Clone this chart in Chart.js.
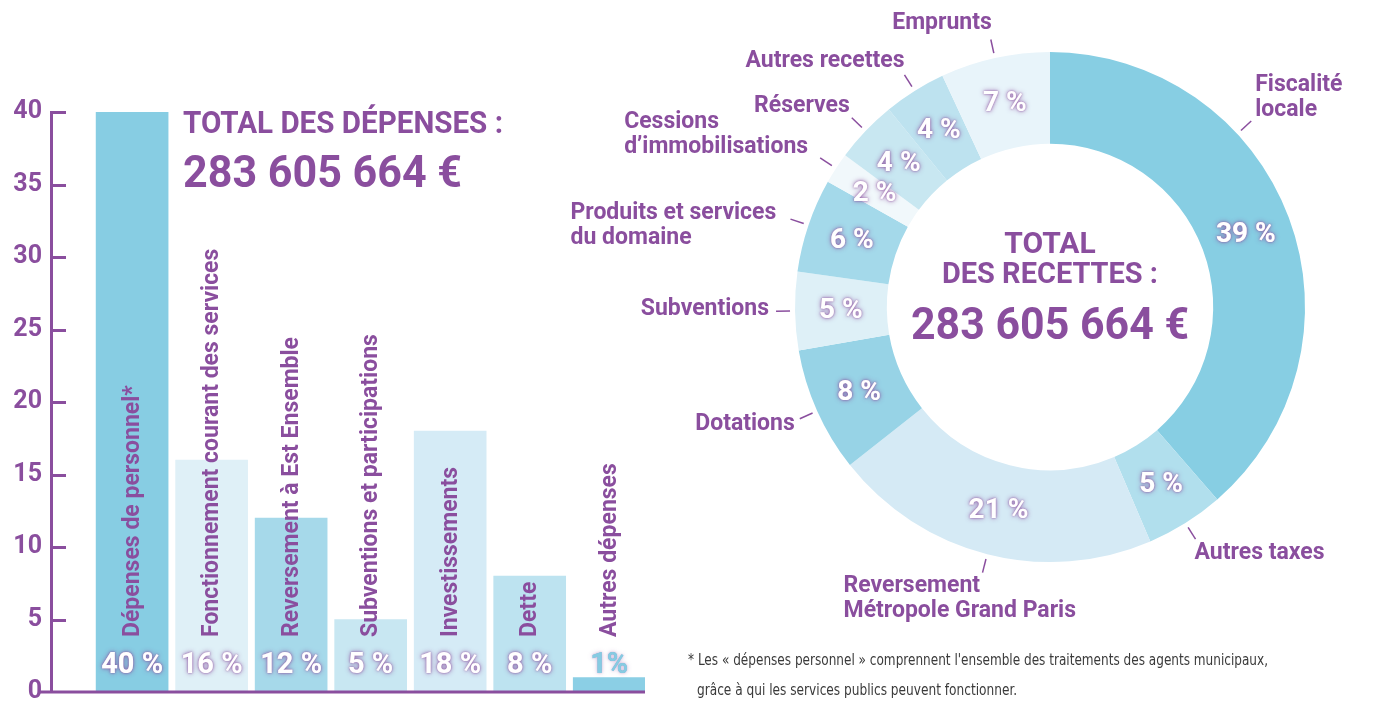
<!DOCTYPE html>
<html>
<head>
<meta charset="utf-8">
<script src="https://cdn.jsdelivr.net/npm/chart.js@4.4.1/dist/chart.umd.min.js"></script>
<style>
  html, body { margin: 0; padding: 0; background: #fff; overflow: hidden; width: 1378px; height: 701px; }
  #bars { position: absolute; left: 0; top: 0; }
  #ring { position: absolute; left: 550px; top: 0; }
</style>
</head>
<body>
<canvas id="bars" width="680" height="720"></canvas>
<canvas id="ring" width="828" height="701"></canvas>
<script>
const PURPLE = '#8a4e9e';
const FONT = 'Roboto, "Liberation Sans", sans-serif';

// dépenses (bar chart)
const depenseLabels = ['Dépenses de personnel*', 'Fonctionnement courant des services', 'Reversement à Est Ensemble',
  'Subventions et participations', 'Investissements', 'Dette', 'Autres dépenses'];
const depenseValues = [40, 16, 12, 5, 18, 8, 1];
const depensePct = ['40 %', '16 %', '12 %', '5 %', '18 %', '8 %', '1%'];
const depenseColors = ['#87cde3', '#dff0f7', '#a6d9ea', '#c8e7f2', '#d5ebf6', '#bde3f0', '#8bcfe5'];
const yMax = 40;
const yStep = 5;

// recettes (doughnut)
const recetteLabels = [['Fiscalité', 'locale'], ['Autres taxes'], ['Reversement', 'Métropole Grand Paris'], ['Dotations'],
  ['Subventions'], ['Produits et services', 'du domaine'], ['Cessions', 'd’immobilisations'], ['Réserves'],
  ['Autres recettes'], ['Emprunts']];
const recetteValues = [39, 5, 21, 8, 5, 6, 2, 4, 4, 7];
const recettePct = ['39 %', '5 %', '21 %', '8 %', '5 %', '6 %', '2 %', '4 %', '4 %', '7 %'];
const recetteColors = ['#87cee3', '#b1dfed', '#d5eaf5', '#97d3e6', '#def0f7', '#a4d9ea', '#f1f8fb', '#c8e7f1', '#bde2ef', '#e8f4fa'];

const totalText = '283 605 664 €';
const footnote = ['* Les « dépenses personnel » comprennent l\'ensemble des traitements des agents municipaux,',
  'grâce à qui les services publics peuvent fonctionner.'];

// where each outside label sits, relative to the end of its leader line
const labelPlace = [
  { frac: 0.34, align: 'left', dx: 4, dy: -36 },
  { frac: 0.5, align: 'left', dx: -1, dy: 14 },
  { frac: 0.5, align: 'left', dx: -139, dy: 14 },
  { frac: 0.5, align: 'right', dx: -5, dy: 6 },
  { frac: 0.5, align: 'right', dx: -7, dy: -2 },
  { frac: 0.5, align: 'left', dx: -220, dy: -6 },
  { frac: 0.5, align: 'left', dx: -196, dy: -36 },
  { frac: 0.5, align: 'right', dx: -2, dy: -12 },
  { frac: 0.5, align: 'right', dx: 0, dy: -14 },
  { frac: 0.5, align: 'right', dx: 1, dy: -16 }
];

function glowText(ctx, txt, x, y, fill, glow) {
  ctx.save();
  ctx.shadowColor = glow;
  ctx.shadowBlur = 5;
  ctx.fillStyle = fill;
  ctx.fillText(txt, x, y);
  ctx.shadowBlur = 2;
  ctx.fillText(txt, x, y);
  ctx.restore();
}

const barDecor = {
  id: 'barDecor',
  afterDraw(chart) {
    const ctx = chart.ctx;
    const xs = chart.scales.x, ys = chart.scales.y;
    const area = chart.chartArea;
    const base = ys.getPixelForValue(0);
    ctx.save();
    ctx.strokeStyle = PURPLE;
    ctx.lineWidth = 3;
    // inward tick marks
    ys.ticks.forEach(t => {
      if (t.value === 0) return;
      const y = Math.round(ys.getPixelForValue(t.value)) + 0.5;
      ctx.beginPath();
      ctx.moveTo(area.left, y);
      ctx.lineTo(area.left + 15, y);
      ctx.stroke();
    });
    // x axis line
    ctx.beginPath();
    ctx.moveTo(area.left - 11, base);
    ctx.lineTo(area.right, base);
    ctx.stroke();

    // rotated category names
    ctx.font = 'bold 23px ' + FONT;
    ctx.fillStyle = PURPLE;
    ctx.textAlign = 'left';
    ctx.textBaseline = 'middle';
    depenseLabels.forEach((lab, i) => {
      const x = xs.getPixelForValue(i);
      ctx.save();
      ctx.translate(x, base - 55);
      ctx.rotate(-Math.PI / 2);
      ctx.fillText(lab, 0, 1);
      ctx.restore();
    });

    // percentages
    ctx.font = 'bold 29px ' + FONT;
    ctx.textAlign = 'center';
    depensePct.forEach((p, i) => {
      const x = xs.getPixelForValue(i);
      if (depenseValues[i] < 3) {
        glowText(ctx, p, x, base - 26, '#86cbe2', 'rgba(138,78,158,0.35)');
      } else {
        glowText(ctx, p, x, base - 26, '#ffffff', 'rgba(138,78,158,0.85)');
      }
    });

    // title
    ctx.textAlign = 'left';
    ctx.textBaseline = 'alphabetic';
    ctx.fillStyle = PURPLE;
    ctx.font = 'bold 32px ' + FONT;
    ctx.fillText('TOTAL DES DÉPENSES :', 183, 133, 320);
    ctx.font = 'bold 44px ' + FONT;
    ctx.fillText(totalText, 183, 187, 279);
    ctx.restore();
  }
};

new Chart(document.getElementById('bars'), {
  type: 'bar',
  data: {
    datasets: [{
      data: depenseValues.map((v, i) => ({ x: i, y: v })),
      backgroundColor: depenseColors,
      borderWidth: 0,
      barThickness: 72
    }]
  },
  options: {
    responsive: false,
    animation: false,
    devicePixelRatio: 1,
    layout: { padding: { top: 112, bottom: 28, right: 35, left: 0 } },
    plugins: { legend: { display: false }, tooltip: { enabled: false } },
    scales: {
      x: { type: 'linear', min: -1.02, max: 6.45, offset: false, grid: { offset: false }, display: false },
      y: {
        min: 0, max: yMax,
        ticks: { stepSize: yStep, color: PURPLE, padding: 9, font: { family: FONT, size: 25, weight: 'bold' } },
        grid: { display: false, drawTicks: false },
        border: { display: true, color: PURPLE, width: 3 },
        afterFit(scale) { scale.width = 51; }
      }
    }
  },
  plugins: [barDecor]
});

const ringDecor = {
  id: 'ringDecor',
  afterDraw(chart) {
    const ctx = chart.ctx;
    const meta = chart.getDatasetMeta(0);
    const arcs = meta.data;
    const cx = arcs[0].x, cy = arcs[0].y;
    ctx.save();

    // percentages in the ring
    ctx.font = 'bold 28px ' + FONT;
    ctx.textAlign = 'center';
    ctx.textBaseline = 'middle';
    arcs.forEach((arc, i) => {
      const pos = arc.tooltipPosition();
      glowText(ctx, recettePct[i], pos.x, pos.y + 1, '#ffffff', 'rgba(138,78,158,0.85)');
    });

    // leader lines and names
    ctx.strokeStyle = PURPLE;
    ctx.lineWidth = 1.5;
    ctx.fillStyle = PURPLE;
    ctx.font = 'bold 23px ' + FONT;
    arcs.forEach((arc, i) => {
      const pl = labelPlace[i];
      const a = arc.startAngle + (arc.endAngle - arc.startAngle) * pl.frac;
      const r0 = arc.outerRadius + 5, r1 = arc.outerRadius + 19;
      const x1 = cx + Math.cos(a) * r1, y1 = cy + Math.sin(a) * r1;
      ctx.beginPath();
      ctx.moveTo(cx + Math.cos(a) * r0, cy + Math.sin(a) * r0);
      ctx.lineTo(x1, y1);
      ctx.stroke();
      ctx.textAlign = pl.align;
      recetteLabels[i].forEach((line, j) => {
        ctx.fillText(line, x1 + pl.dx, y1 + pl.dy + j * 25);
      });
    });

    // centre total
    ctx.textAlign = 'center';
    ctx.textBaseline = 'alphabetic';
    ctx.font = 'bold 30px ' + FONT;
    ctx.fillText('TOTAL', cx, cy - 54);
    ctx.fillText('DES RECETTES :', cx, cy - 24, 216);
    ctx.font = 'bold 44px ' + FONT;
    ctx.fillText(totalText, cx, cy + 32, 278);

    // footnote
    ctx.textAlign = 'left';
    ctx.fillStyle = '#3a3a3a';
    ctx.font = '16px "Liberation Sans Narrow", "DejaVu Sans Condensed", sans-serif';
    ctx.fillText(footnote[0], 138, 665, 580);
    ctx.fillText(footnote[1], 147, 695, 320);
    ctx.restore();
  }
};

new Chart(document.getElementById('ring'), {
  type: 'doughnut',
  data: {
    labels: recetteLabels.map(l => l.join(' ')),
    datasets: [{ data: recetteValues, backgroundColor: recetteColors, borderWidth: 0 }]
  },
  options: {
    responsive: false,
    animation: false,
    devicePixelRatio: 1,
    cutout: '64%',
    layout: { padding: { left: 245, top: 52, right: 73, bottom: 139 } },
    plugins: { legend: { display: false }, tooltip: { enabled: false } }
  },
  plugins: [ringDecor]
});
</script>
</body>
</html>
